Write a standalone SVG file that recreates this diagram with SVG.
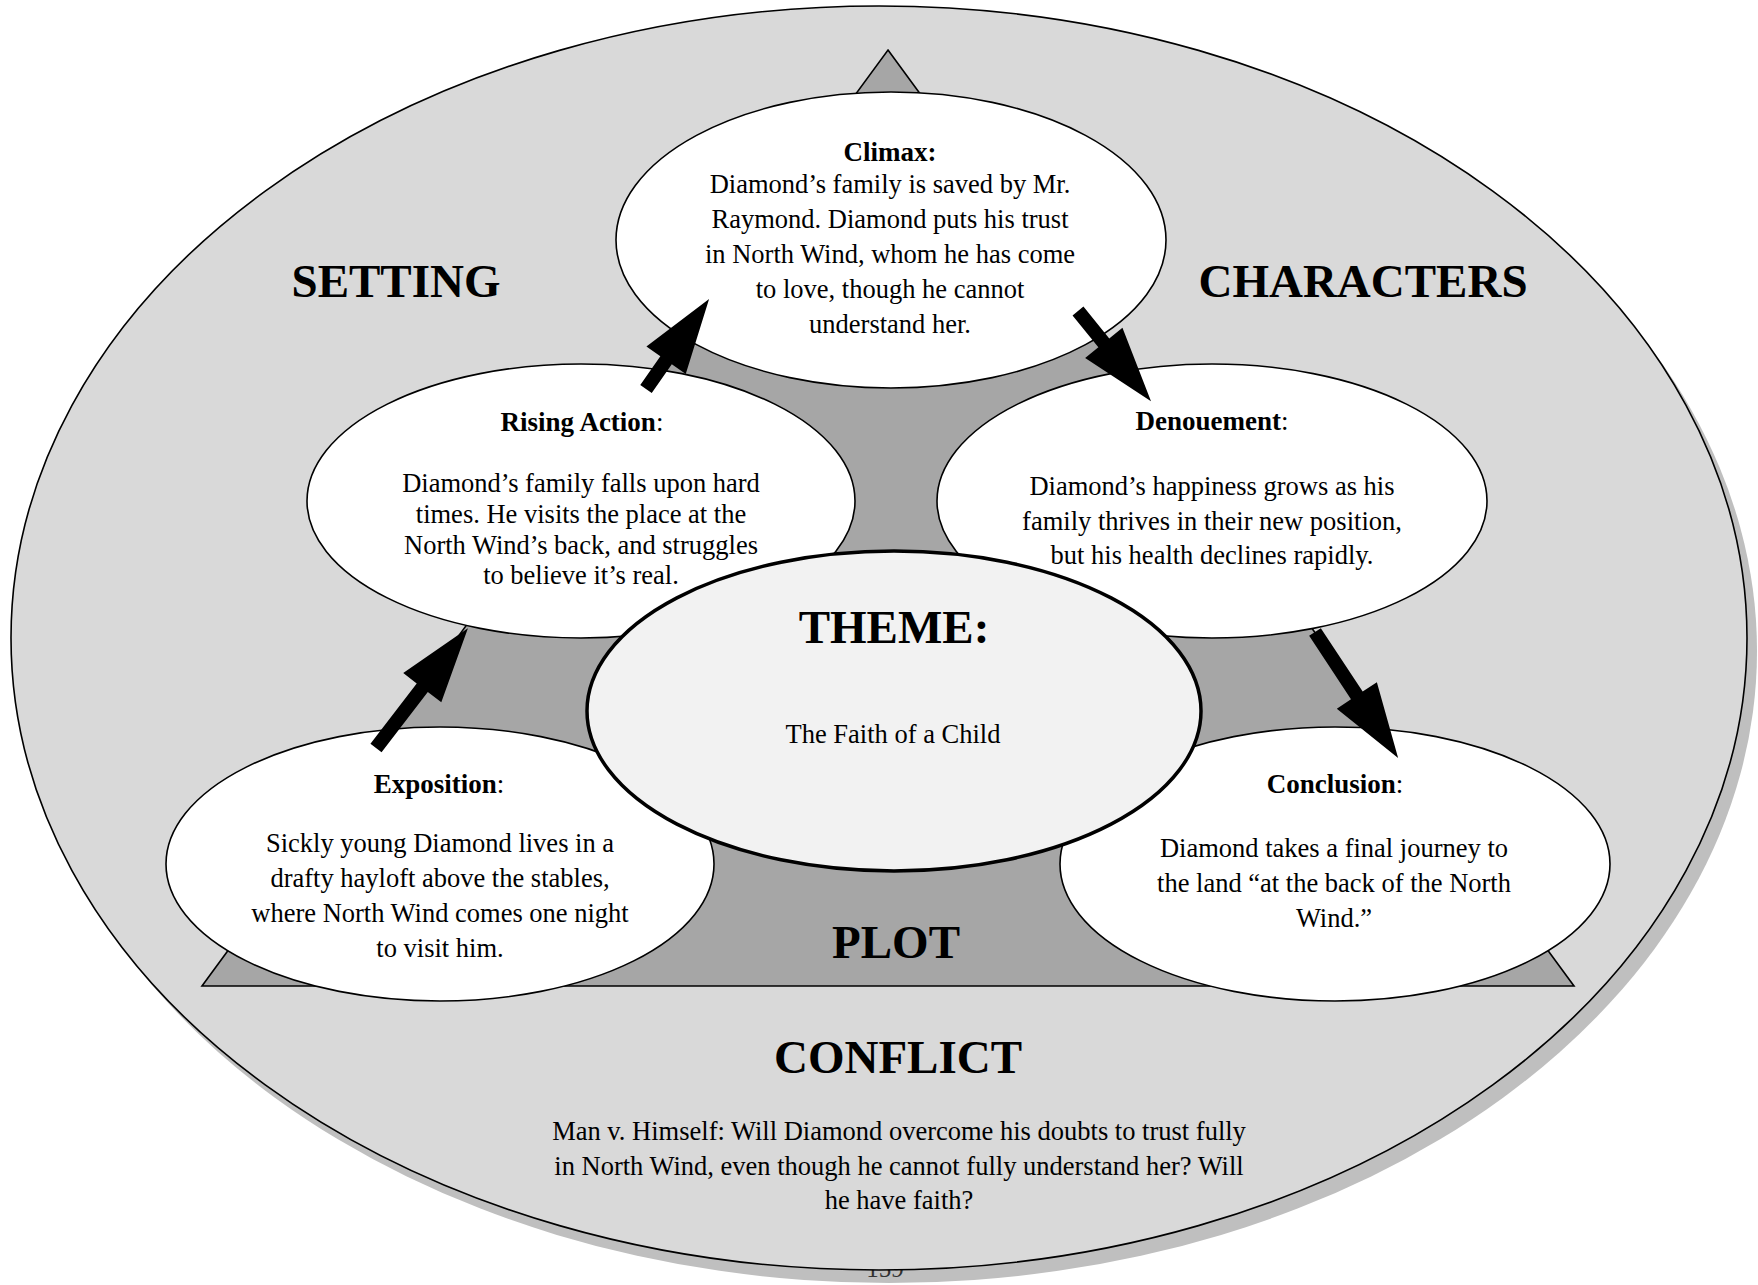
<svg xmlns="http://www.w3.org/2000/svg" width="1758" height="1285" viewBox="0 0 1758 1285">
  <style>
    .node { fill: #ffffff; stroke: #000000; stroke-width: 1.6; }
    .title { font-family: "Liberation Serif", "Times New Roman", serif; font-size: 27px; font-weight: bold; text-anchor: middle; fill: #000; }
    .colon { font-weight: normal; }
    .body { font-family: "Liberation Serif", "Times New Roman", serif; font-size: 26.5px; text-anchor: middle; fill: #000; }
    .big { font-family: "Liberation Serif", "Times New Roman", serif; font-size: 47px; font-weight: bold; text-anchor: middle; fill: #000; }
    .arrow { fill: #000000; stroke: none; }
  </style>

  <!-- background -->
  <g id="background">
    <ellipse cx="889" cy="651" rx="868" ry="632" fill="#bfbfbf"/>
    <text x="885" y="1277" font-family="Liberation Serif, serif" font-size="25" text-anchor="middle" fill="#333">159</text>
    <ellipse cx="879" cy="638" rx="868" ry="632" fill="#d9d9d9" stroke="#000" stroke-width="1.6"/>
    <polygon points="888,50 1574,986 202,986" fill="#a6a6a6" stroke="#000" stroke-width="1.6"/>
  </g>

  <g id="labels">
    <text class="big" x="396" y="297">SETTING</text>
    <text class="big" x="1363" y="297">CHARACTERS</text>
    <text class="big" x="896" y="958">PLOT</text>
    <text class="big" x="898" y="1073">CONFLICT</text>
    <text class="body" x="899" y="1140">Man v. Himself: Will Diamond overcome his doubts to trust fully</text>
    <text class="body" x="899" y="1175">in North Wind, even though he cannot fully understand her? Will</text>
    <text class="body" x="899" y="1209">he have faith?</text>
  </g>

  <g id="climax">
    <ellipse class="node" cx="891" cy="240" rx="275" ry="148"/>
    <text class="title" x="890" y="161">Climax:</text>
    <text class="body" x="890" y="193">Diamond’s family is saved by Mr.</text>
    <text class="body" x="890" y="228">Raymond. Diamond puts his trust</text>
    <text class="body" x="890" y="263">in North Wind, whom he has come</text>
    <text class="body" x="890" y="298">to love, though he cannot</text>
    <text class="body" x="890" y="333">understand her.</text>
  </g>

  <g id="rising-action">
    <ellipse class="node" cx="581" cy="501" rx="274" ry="137"/>
    <text class="title" x="582" y="431">Rising Action<tspan class="colon">:</tspan></text>
    <text class="body" x="581" y="492">Diamond’s family falls upon hard</text>
    <text class="body" x="581" y="523">times. He visits the place at the</text>
    <text class="body" x="581" y="554">North Wind’s back, and struggles</text>
    <text class="body" x="581" y="584">to believe it’s real.</text>
  </g>

  <g id="denouement">
    <ellipse class="node" cx="1212" cy="501" rx="275" ry="137"/>
    <text class="title" x="1212" y="430">Denouement<tspan class="colon">:</tspan></text>
    <text class="body" x="1212" y="495">Diamond’s happiness grows as his</text>
    <text class="body" x="1212" y="530">family thrives in their new position,</text>
    <text class="body" x="1212" y="564">but his health declines rapidly.</text>
  </g>

  <g id="exposition">
    <ellipse class="node" cx="440" cy="864" rx="274" ry="137"/>
    <text class="title" x="439" y="793">Exposition<tspan class="colon">:</tspan></text>
    <text class="body" x="440" y="852">Sickly young Diamond lives in a</text>
    <text class="body" x="440" y="887">drafty hayloft above the stables,</text>
    <text class="body" x="440" y="922">where North Wind comes one night</text>
    <text class="body" x="440" y="957">to visit him.</text>
  </g>

  <g id="conclusion">
    <ellipse class="node" cx="1335" cy="864" rx="275" ry="137"/>
    <text class="title" x="1335" y="793">Conclusion<tspan class="colon">:</tspan></text>
    <text class="body" x="1334" y="857">Diamond takes a final journey to</text>
    <text class="body" x="1334" y="892">the land “at the back of the North</text>
    <text class="body" x="1334" y="927">Wind.”</text>
  </g>

  <g id="theme">
    <ellipse cx="894" cy="711" rx="307" ry="160" fill="#f2f2f2" stroke="#000" stroke-width="3.5"/>
    <text class="big" x="894" y="643">THEME:</text>
    <text class="body" x="893" y="743">The Faith of a Child</text>
  </g>

  <g id="connectors">
    <polygon class="arrow" points="0,-7 76,-7 76,-24 151,0 76,24 76,7 0,7" transform="translate(376,748) rotate(-52.5)"/>
    <polygon class="arrow" points="0,-7 35,-7 35,-24 110,0 35,24 35,7 0,7" transform="translate(646,389) rotate(-55)"/>
    <polygon class="arrow" points="0,-7 41,-7 41,-24 116,0 41,24 41,7 0,7" transform="translate(1078,311) rotate(51)"/>
    <polygon class="arrow" points="0,-7 76,-7 76,-24 151,0 76,24 76,7 0,7" transform="translate(1315,632) rotate(56.6)"/>
  </g>
</svg>
